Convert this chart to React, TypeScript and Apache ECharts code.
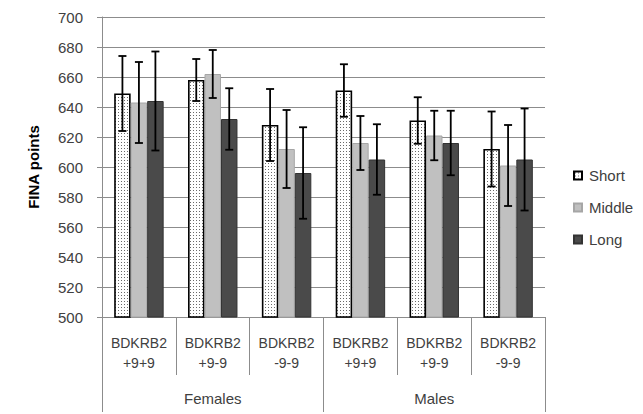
import React, { useEffect, useRef } from "react";
import * as echarts from "echarts";

const categories = [
  "BDKRB2\n+9+9",
  "BDKRB2\n+9-9",
  "BDKRB2\n-9-9",
  "BDKRB2\n+9+9",
  "BDKRB2\n+9-9",
  "BDKRB2\n-9-9",
];
const groups = ["Females", "Males"];
const seriesNames = ["Short", "Middle", "Long"];
const shortValues = [649, 658, 628, 651, 631, 612];
const shortErrors = [25, 14, 24, 17.5, 15.5, 25];
const middleValues = [643, 662, 612, 616, 621, 601];
const middleErrors = [27, 16, 26, 18, 16.5, 27];
const longValues = [644, 632, 596, 605, 616, 605];
const longErrors = [33, 20.5, 30.5, 23.5, 21.5, 34];
const yTicks = { min: 500, max: 700, interval: 20 };

const FONT = "Liberation Sans";
const TEXT = "#404040";
const GRIDC = "#8c8c8c";
const CAT_GAP = 0.33;

function makePattern(): HTMLCanvasElement {
  const c = document.createElement("canvas");
  c.width = 3;
  c.height = 3;
  const ctx = c.getContext("2d")!;
  ctx.fillStyle = "#ffffff";
  ctx.fillRect(0, 0, 3, 3);
  ctx.fillStyle = "#6a6a6a";
  ctx.fillRect(1, 1, 1, 1);
  return c;
}

export default function App() {
  const ref = useRef<HTMLDivElement>(null);
  useEffect(() => {
    if (!ref.current) return;
    const chart = echarts.init(ref.current, undefined, { renderer: "svg" });
    const pattern = makePattern();
    const values = [shortValues, middleValues, longValues];
    const errors = [shortErrors, middleErrors, longErrors];
    const errData: number[][] = [];
    values.forEach((vals, s) =>
      vals.forEach((v, i) => errData.push([i, v - errors[s][i], v + errors[s][i], s]))
    );
    const styles = [
      { color: { image: pattern, repeat: "repeat" }, borderColor: "#000000", borderWidth: 1.6 },
      { color: "#c0c0c0", borderColor: "#a6a6a6", borderWidth: 1 },
      { color: "#4a4a4a", borderColor: "#333333", borderWidth: 1 },
    ];
    chart.setOption({
      animation: false,
      grid: { left: 102, right: 98, top: 17, bottom: 97, containLabel: false },
      legend: {
        orient: "vertical",
        left: 573,
        top: 168,
        padding: 0,
        icon: "rect",
        itemWidth: 8,
        itemHeight: 8,
        itemGap: 17,
        data: seriesNames,
        textStyle: { fontFamily: FONT, fontSize: 15, color: TEXT, padding: [0, 0, 0, 2] },
      },
      xAxis: [
        {
          type: "category",
          position: "bottom",
          data: categories,
          axisLine: { show: true, lineStyle: { color: GRIDC } },
          axisTick: { show: true, length: 58, interval: 0, lineStyle: { color: GRIDC } },
          axisLabel: {
            interval: 0,
            margin: 16,
            fontFamily: FONT,
            fontSize: 14,
            color: TEXT,
            lineHeight: 20,
            align: "center",
          },
          splitLine: { show: false },
        },
        {
          type: "category",
          position: "bottom",
          data: groups,
          axisLine: { show: true, lineStyle: { color: GRIDC } },
          axisTick: { show: true, length: 95, interval: 0, lineStyle: { color: GRIDC } },
          axisLabel: { interval: 0, margin: 74, fontFamily: FONT, fontSize: 15, color: TEXT },
          splitLine: { show: false },
        },
      ],
      yAxis: {
        type: "value",
        min: yTicks.min,
        max: yTicks.max,
        interval: yTicks.interval,
        name: "FINA points",
        nameLocation: "middle",
        nameGap: 61,
        nameTextStyle: { fontFamily: FONT, fontSize: 15, fontWeight: "bold", color: "#000" },
        axisLine: { show: true, lineStyle: { color: GRIDC } },
        axisTick: { show: true, length: 5, lineStyle: { color: GRIDC } },
        axisLabel: { margin: 19, fontFamily: FONT, fontSize: 15, color: TEXT },
        splitLine: { show: true, lineStyle: { color: GRIDC, width: 1 } },
      },
      series: [
        ...seriesNames.map((name, s) => ({
          name,
          type: "bar",
          xAxisIndex: 0,
          data: values[s],
          barGap: "0%",
          barCategoryGap: CAT_GAP * 100 + "%",
          itemStyle: styles[s],
          emphasis: { disabled: true },
        })),
        {
          type: "custom",
          name: "err",
          xAxisIndex: 0,
          z: 5,
          data: errData,
          encode: { x: 0, y: [1, 2] },
          renderItem: (params: any, api: any) => {
            const cat = api.value(0);
            const lo = api.value(1);
            const hi = api.value(2);
            const s = api.value(3);
            const band = api.size([1, 0])[0];
            const bw = (band * (1 - CAT_GAP)) / 3;
            const pLo = api.coord([cat, lo]);
            const pHi = api.coord([cat, hi]);
            const x = pLo[0] + (s - 1) * bw;
            const cap = 4;
            const style = { stroke: "#000", lineWidth: 1.8 };
            return {
              type: "group",
              children: [
                { type: "line", shape: { x1: x, y1: pLo[1], x2: x, y2: pHi[1] }, style },
                { type: "line", shape: { x1: x - cap, y1: pHi[1], x2: x + cap, y2: pHi[1] }, style },
                { type: "line", shape: { x1: x - cap, y1: pLo[1], x2: x + cap, y2: pLo[1] }, style },
              ],
            };
          },
        },
      ],
    });
    return () => chart.dispose();
  }, []);
  return <div ref={ref} style={{ width: 643, height: 414, position: "absolute", left: 0, top: 0, background: "#fff" }} />;
}
